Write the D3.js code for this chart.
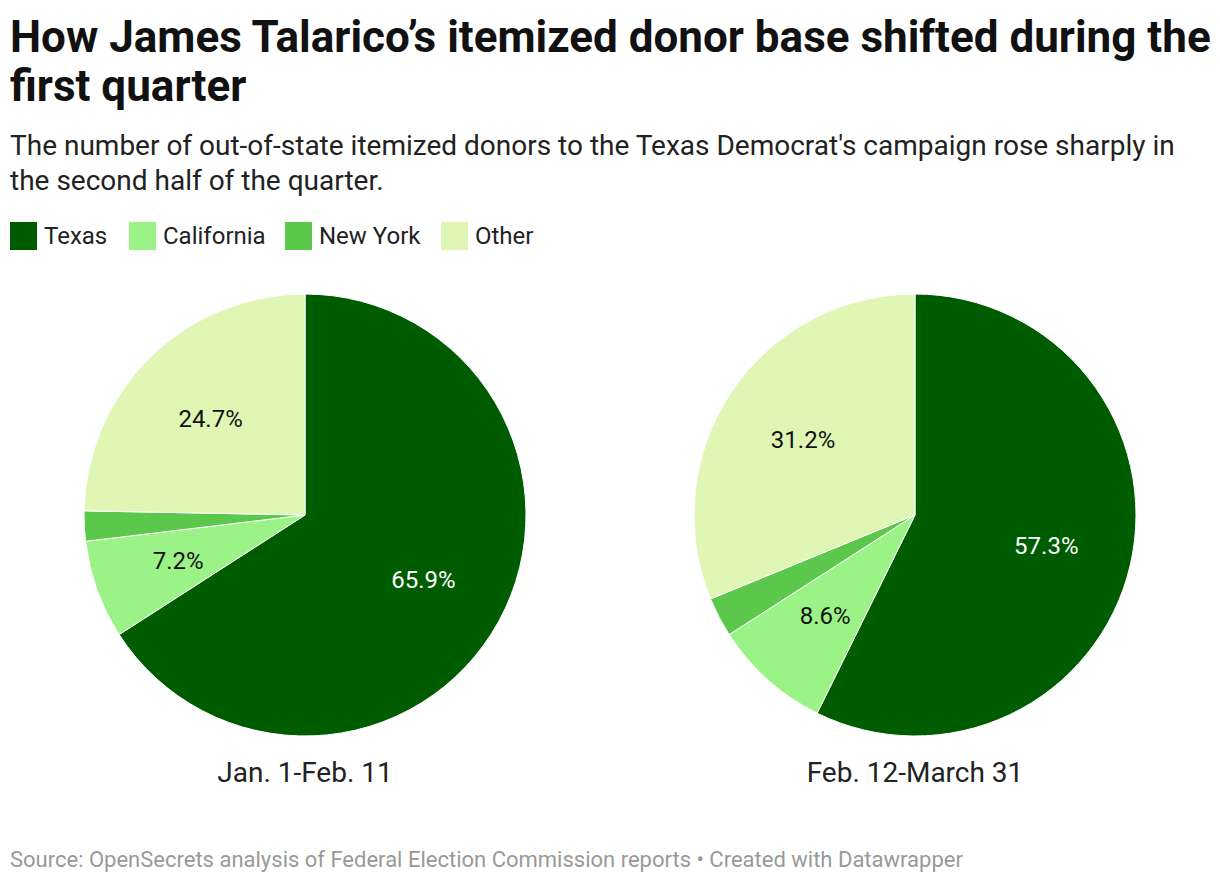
<!DOCTYPE html>
<html><head><meta charset="utf-8">
<script src="https://cdn.jsdelivr.net/npm/d3@7"></script>
<style>body{margin:0;background:#fff;font-family:Roboto,sans-serif;}</style>
</head><body>
<svg id="c" width="1220" height="884"></svg>
<script>
const categories = ["Texas", "California", "New York", "Other"];
const colors = ["#005c00", "#9bf287", "#5cc84b", "#e0f6b4"];
const periods = ["Jan. 1-Feb. 11", "Feb. 12-March 31"];
const values1 = [65.9, 7.2, 2.2, 24.7];
const values2 = [57.3, 8.6, 2.9, 31.2];
const series = [values1, values2];

const svg = d3.select("#c");
svg.append("rect").attr("width",1220).attr("height",884).attr("fill","#fff");

const title = ["How James Talarico’s itemized donor base shifted during the", "first quarter"];
title.forEach((t,i)=>svg.append("text").attr("x",10).attr("y",52+i*49)
  .attr("font-size",44).attr("font-weight",700).attr("fill","#111").text(t));
const sub = ["The number of out-of-state itemized donors to the Texas Democrat's campaign rose sharply in","the second half of the quarter."];
sub.forEach((t,i)=>svg.append("text").attr("x",10).attr("y",155+i*35)
  .attr("font-size",28).attr("fill","#222").text(t));

// legend
const legX = [10, 129, 285, 441];
categories.forEach((c,i)=>{
  const g = svg.append("g").attr("transform",`translate(${legX[i]},222)`);
  g.append("rect").attr("width",27).attr("height",28).attr("fill",colors[i]);
  g.append("text").attr("x",34).attr("y",22).attr("font-size",24).attr("fill","#222").text(c);
});

const color = d3.scaleOrdinal().domain(categories).range(colors);
const pie = d3.pie().sort(null).value(d=>d.v);
const R = 221;
const arc = d3.arc().innerRadius(0).outerRadius(R);
const labelArc = d3.arc().innerRadius(R*0.61).outerRadius(R*0.61);
const centers = d3.scalePoint().domain(periods).range([305, 915]);

periods.forEach((p,pi)=>{
  const data = categories.map((c,i)=>({c, v: series[pi][i]}));
  const g = svg.append("g").attr("transform",`translate(${centers(p)},515)`);
  const arcs = pie(data);
  g.selectAll("path").data(arcs).join("path")
    .attr("d",arc).attr("fill",d=>color(d.data.c))
    .attr("stroke","#fff").attr("stroke-width",1);
  g.selectAll("text").data(arcs.filter(d=>d.data.v>5)).join("text")
    .attr("transform",d=>`translate(${labelArc.centroid(d)})`)
    .attr("text-anchor","middle").attr("dy","0.35em")
    .attr("font-size",24)
    .attr("fill",d=>d.data.c==="Texas"?"#fff":"#111")
    .text(d=>d3.format(".1f")(d.data.v)+"%");
  svg.append("text").attr("x",centers(p)).attr("y",782).attr("text-anchor","middle")
    .attr("font-size",28).attr("fill","#222").text(p);
});

svg.append("text").attr("x",10).attr("y",867).attr("font-size",22).attr("fill","#999")
  .text("Source: OpenSecrets analysis of Federal Election Commission reports • Created with Datawrapper");
</script>
</body></html>
